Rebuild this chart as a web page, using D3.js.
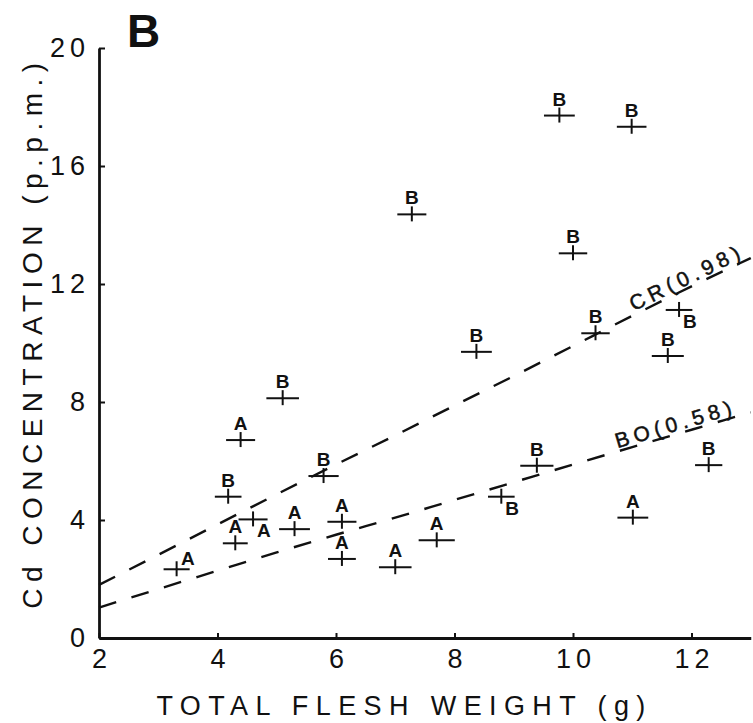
<!DOCTYPE html>
<html>
<head>
<meta charset="utf-8">
<script src="https://cdn.jsdelivr.net/npm/d3@7"></script>
<style>
  html, body { margin: 0; padding: 0; background: #fff; }
  svg { display: block; font-family: "Liberation Sans", Arial, sans-serif; }
</style>
</head>
<body>
<div id="chart"></div>
<script>
/* ---------- data ---------- */
// total flesh weight (g), Cd concentration (p.p.m.), site group, half width of the weight bar (g)
const weight = [3.31, 4.39, 5.10, 4.18, 5.79, 4.30, 4.60, 5.30, 6.10, 6.10, 7.00, 7.70,
                8.79, 9.39, 11.01, 12.29, 9.77, 10.99, 7.28, 10.00, 10.38, 11.79, 11.60, 8.37];
const cd     = [2.33, 6.71, 8.13, 4.79, 5.49, 3.21, 4.02, 3.69, 3.94, 2.68, 2.40, 3.31,
                4.79, 5.84, 4.08, 5.86, 17.71, 17.33, 14.36, 13.04, 10.33, 11.12, 9.56, 9.70];
const group  = ["A", "A", "B", "B", "B", "A", "A", "A", "A", "A", "A", "A",
                "B", "B", "A", "B", "B", "B", "B", "B", "B", "B", "B", "B"];
const halfBar = [0.22, 0.245, 0.275, 0.225, 0.255, 0.21, 0.245, 0.26, 0.245, 0.235, 0.275, 0.305,
                 0.225, 0.28, 0.26, 0.23, 0.26, 0.25, 0.245, 0.24, 0.24, 0.225, 0.27, 0.26];

// fitted curves, read at whole grams
const curveX   = [2, 3, 4, 5, 6, 7, 8, 9, 10, 11, 12, 13];
const crValues = [1.80, 2.82, 3.85, 4.87, 5.88, 6.87, 7.88, 8.88, 9.90, 10.92, 11.92, 12.88];
const boValues = [1.03, 1.66, 2.28, 2.90, 3.50, 4.08, 4.68, 5.28, 5.88, 6.47, 7.06, 7.65];
const curveNames = ["CR(0.98)", "BO(0.58)"];
const curveLabelAt = [11.96, 11.74];   // weight at the middle of each curve label

const xTicks = [2, 4, 6, 8, 10, 12];
const yTicks = [0, 4, 8, 12, 16, 20];

/* ---------- chart ---------- */
const W = 753, H = 723;
const FONT = "'Liberation Sans', Arial, sans-serif";
const INK = "#111";

const svg = d3.select("#chart").append("svg")
  .attr("width", W).attr("height", H)
  .attr("viewBox", `0 0 ${W} ${H}`);

const x = d3.scaleLinear().domain([2, 13]).range([99, 750.75]);
const y = d3.scaleLinear().domain([0, 20]).range([638, 48]);

// dashed regression curves
const line = d3.line()
  .x(d => x(d[0]))
  .y(d => y(d[1]))
  .curve(d3.curveMonotoneX);

[crValues, boValues].forEach((vals, i) => {
  const pts = curveX.map((cx, j) => [cx, vals[j]]);
  svg.append("path")
    .attr("d", line(pts))
    .attr("fill", "none")
    .attr("stroke", INK)
    .attr("stroke-width", 2.4)
    .attr("stroke-dasharray", "18,16");

  // label sitting on the curve, turned to its slope
  const at = curveLabelAt[i];
  const yAt = d3.scaleLinear().domain(curveX).range(vals);
  const px = x(at), py = y(yAt(at));
  const ang = Math.atan2(y(yAt(at + 0.5)) - y(yAt(at - 0.5)), x(at + 0.5) - x(at - 0.5)) * 180 / Math.PI;
  svg.append("text")
    .attr("transform", `translate(${px},${py}) rotate(${ang})`)
    .attr("y", -3)
    .attr("x", 2.5)
    .attr("text-anchor", "middle")
    .attr("font-family", FONT)
    .attr("font-size", 21)
    .attr("letter-spacing", 5)
    .attr("stroke", INK)
    .attr("stroke-width", 0.5)
    .attr("fill", INK)
    .text(curveNames[i]);
});

// points: weight bar, short upright and the group letter
const rows = weight.map((w, i) => ({ w, c: cd[i], g: group[i], hb: halfBar[i], i }));
const belowRight = new Set([6, 12, 21]);
const upRight = new Set([0]);

const pt = svg.append("g").selectAll("g")
  .data(rows)
  .join("g")
  .attr("transform", d => `translate(${x(d.w)},${y(d.c)})`);

pt.append("line")
  .attr("x1", d => x(d.w - d.hb) - x(d.w))
  .attr("x2", d => x(d.w + d.hb) - x(d.w))
  .attr("stroke", INK).attr("stroke-width", 2);

pt.append("line")
  .attr("y1", -8).attr("y2", 7)
  .attr("stroke", INK).attr("stroke-width", 2);

pt.append("text")
  .attr("font-family", FONT)
  .attr("font-size", 19)
  .attr("font-weight", "bold")
  .attr("fill", INK)
  .attr("text-anchor", d => (belowRight.has(d.i) || upRight.has(d.i)) ? "start" : "middle")
  .attr("x", d => belowRight.has(d.i) ? 4 : upRight.has(d.i) ? 4.5 : 0)
  .attr("y", d => belowRight.has(d.i) ? 18 : upRight.has(d.i) ? -4 : -10)
  .text(d => d.g);

// axes
const xAxis = d3.axisBottom(x).tickValues(xTicks).tickSizeInner(-5).tickSizeOuter(0).tickPadding(11);
const yAxis = d3.axisLeft(y).tickValues(yTicks).tickSizeInner(-6).tickSizeOuter(0).tickPadding(9);

const gx = svg.append("g").attr("transform", `translate(0,${y(0)})`).call(xAxis);
const gy = svg.append("g").attr("transform", `translate(${x(2)},0)`).call(yAxis);

[gx, gy].forEach(g => {
  g.select(".domain").attr("stroke", INK).attr("stroke-width", 2.8);
  g.selectAll(".tick line").attr("stroke", INK).attr("stroke-width", 2);
  g.selectAll(".tick text")
    .attr("font-family", FONT)
    .attr("font-size", 27)
    .attr("letter-spacing", 5)
    .attr("fill", INK);
});
gx.selectAll(".tick text").attr("dx", 2.5);

// axis titles
svg.append("text")
  .attr("x", 401 + 3.6).attr("y", 715)
  .attr("text-anchor", "middle")
  .attr("font-family", FONT).attr("font-size", 27)
  .attr("letter-spacing", 7.4)
  .attr("fill", INK)
  .text("TOTAL FLESH WEIGHT (g)");

svg.append("text")
  .attr("transform", `translate(42,${336 - 3.4}) rotate(-90)`)
  .attr("text-anchor", "middle")
  .attr("font-family", FONT).attr("font-size", 28)
  .attr("letter-spacing", 6.5)
  .attr("fill", INK)
  .text("Cd CONCENTRATION (p.p.m.)");

// panel letter
svg.append("text")
  .attr("x", 127).attr("y", 47)
  .attr("font-family", FONT).attr("font-size", 46)
  .attr("font-weight", "bold")
  .attr("fill", INK)
  .text("B");
</script>
</body>
</html>
